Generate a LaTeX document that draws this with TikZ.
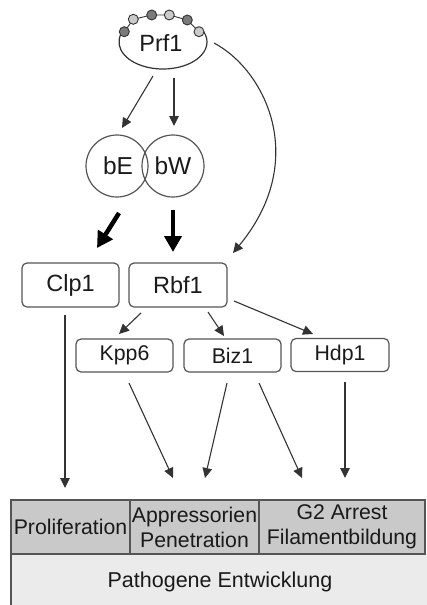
\documentclass[tikz,border=0pt]{standalone}
\usepackage{fontspec}
\setmainfont{Liberation Sans}
\usetikzlibrary{arrows.meta,calc,shapes.geometric}
\definecolor{ln}{HTML}{333333}
\definecolor{bx}{HTML}{555555}
\definecolor{txt}{HTML}{1A1A1A}
\definecolor{beaddark}{HTML}{7A7A7A}
\definecolor{beadlight}{HTML}{CACACA}
\definecolor{cellgray}{HTML}{C9C9C9}
\definecolor{basegray}{HTML}{EBEBEB}
\tikzset{
  lbl/.style={text=txt,inner sep=0pt,font=\fontsize{23.5}{26}\selectfont},
  bigcirc/.style={circle,draw=bx,line width=1.2pt,minimum size=62pt,inner sep=0pt,text=txt,font=\fontsize{24.5}{26}\selectfont},
  gene/.style={draw=bx,line width=1.2pt,rounded corners=5pt,minimum width=97pt,minimum height=44pt,inner sep=0pt,text=txt,font=\fontsize{23.5}{26}\selectfont},
  smallgene/.style={gene,minimum height=33pt,font=\fontsize{21.3}{24}\selectfont},
  cell/.style={draw=bx,line width=1.2pt,fill=cellgray,minimum height=54pt,inner sep=0pt,text=txt,align=center,font=\fontsize{21.25}{25}\selectfont},
  arr/.style={draw=ln,line width=1.1pt,-{Triangle[length=10pt,width=9.5pt]}},
  thickarr/.style={draw=black,line width=4.5pt,-{Triangle[length=16pt,width=17pt]}},
  bead/.style={draw=ln,line width=0.9pt},
}
\begin{document}
\begin{tikzpicture}[x=1pt,y=-1pt]
\useasboundingbox (0,0) rectangle (426,605);
% Prf1
\draw[draw=ln,line width=1.2pt] (163,42) ++(208:44 and 27) arc[start angle=208,end angle=-28,x radius=44,y radius=27];
\draw[bead] (124.3,31.7) -- (133.3,19.3) -- (151.7,15) -- (169.3,15) -- (187.3,20) -- (199,31.7);
\foreach \p/\c in {{(124.3,31.7)}/beaddark,{(133.3,19.3)}/beadlight,{(151.7,15)}/beaddark,{(169.3,15)}/beadlight,{(187.3,20)}/beaddark,{(199,31.7)}/beadlight}
  \filldraw[bead,fill=\c] \p circle (5pt);
\node[lbl] (prf) at (161,43) {Prf1};
% bE bW
\node[bigcirc] (bE) at (117,166) {};
\node[bigcirc] (bW) at (173,166) {};
\node[lbl,font=\fontsize{24.5}{26}\selectfont] (bEt) at (118,166) {bE};
\node[lbl,font=\fontsize{24.5}{26}\selectfont] (bWt) at (173,166) {bW};
% boxes
\node[gene] (clp) at (70.5,285) {Clp1};
\node[gene,minimum width=98pt] (rbf) at (178,285) {Rbf1};
\node[smallgene] (kpp) at (124.5,355.5) {Kpp6};
\node[smallgene] (biz) at (232.5,355.5) {Biz1};
\node[smallgene,minimum width=98pt] (hdp) at (340,355) {Hdp1};
% table
\fill[basegray] (11,554) rectangle (427,606);
\draw[draw=bx,line width=1.2pt] (11,554) -- (11,606);
\node[cell,minimum width=119pt] (prol) at (70.5,527) {Proliferation};
\node[cell,minimum width=129pt] (appr) at (194.5,527) {Appressorien\\Penetration};
\node[cell,minimum width=166pt] (gtwo) at (342,527) {G2 Arrest\\Filamentbildung};
\node[text=txt,inner sep=0pt,font=\fontsize{21.5}{25}\selectfont] (path) at (220,582) {Pathogene Entwicklung};
% arrows from Prf1
\draw[arr] ($(prf)+(-8,33)$) -- ($(bE)+(5,-38)$);
\draw[arr] ($(prf)+(13,35)$) -- ($(bW)+(1,-40)$);
\draw[arr] ($(prf)+(53,0)$) .. controls (265,70) and (310,160) .. ($(rbf)+(55,-32)$);
% thick arrows
\draw[thickarr] ($(bE)+(2,47)$) -- ($(clp)+(26.5,-37)$);
\draw[thickarr] ($(bW)+(0,44)$) -- ($(rbf)+(-5,-33)$);
% from Rbf1
\draw[arr] ($(rbf)+(-37,28)$) -- ($(kpp)+(-5.5,-21.5)$);
\draw[arr] ($(rbf)+(30,27)$) -- ($(biz)+(-8.5,-19.5)$);
\draw[arr] ($(rbf)+(56,16)$) -- ($(hdp)+(-27,-21)$);
% to table
\draw[arr] ($(clp)+(-5.5,30)$) -- ($(prol)+(-5.5,-39)$);
\draw[arr] ($(kpp)+(4.5,27.5)$) -- ($(appr)+(-21.5,-49)$);
\draw[arr] ($(biz)+(-5.5,27.5)$) -- ($(appr)+(10.5,-49)$);
\draw[arr] ($(biz)+(26.5,27.5)$) -- ($(gtwo)+(-40,-49)$);
\draw[arr] ($(hdp)+(5,27)$) -- ($(gtwo)+(3,-49)$);
\end{tikzpicture}
\end{document}
